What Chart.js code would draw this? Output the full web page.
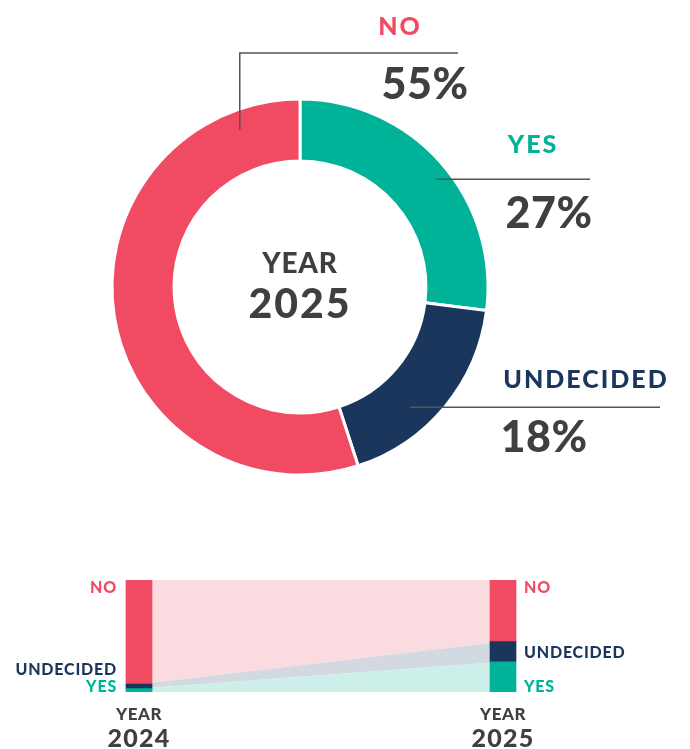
<!DOCTYPE html>
<html>
<head>
<meta charset="utf-8">
<script src="https://cdn.jsdelivr.net/npm/chart.js@4"></script>
<style>
  body { margin: 0; background: #fff; }
  #wrap { position: relative; width: 690px; height: 749px; }
  #donut { position: absolute; left: 0; top: 0; }
  #flow { position: absolute; left: 0; top: 520px; }
</style>
</head>
<body>
<div id="wrap">
  <canvas id="donut" width="690" height="520"></canvas>
  <canvas id="flow" width="690" height="229"></canvas>
</div>
<script>
// ---------------- data
var categories = ['YES', 'UNDECIDED', 'NO'];
var share2025 = [27, 18, 55];
var share2024 = [3, 4, 93];
var years = ['2024', '2025'];

var solid = ['#00B398', '#1B365D', '#F04B63'];
var pale = ['#CCEFEA', '#D3D9E1', '#FADBDF'];
var ink = '#3F3F3F';
var FONT = 'Lato, "Open Sans", sans-serif';

function txt(ctx, s, x, y, size, color, align, spacing) {
  ctx.save();
  ctx.font = '900 ' + size + 'px ' + FONT;
  ctx.fillStyle = color;
  ctx.textAlign = align || 'center';
  ctx.textBaseline = 'alphabetic';
  ctx.letterSpacing = (spacing || 0) + 'px';
  ctx.fillText(s, x, y);
  ctx.restore();
}

// ---------------- donut
// callouts: angle (deg clockwise from top), radius fraction, line end / text spots
var callouts = {
  NO:        { angle: 339, rf: 0.894, elbowY: 53, endX: 458, lx: 400, ly: 35, vx: 425, vy: 99 },
  YES:       { angle: 51.7, rf: 0.925, endX: 590, lx: 533, ly: 153, vx: 549, vy: 228 },
  UNDECIDED: { angle: 137.5, rf: 0.867, endX: 660, lx: 586, ly: 388, vx: 544, vy: 452 }
};

var donutLabels = {
  id: 'donutLabels',
  afterDraw: function (chart) {
    var ctx = chart.ctx;
    var arc = chart.getDatasetMeta(0).data[0];
    var cx = arc.x, cy = arc.y, R = arc.outerRadius;
    txt(ctx, 'YEAR', cx, cy - 14, 28, ink, 'center', 0.8);
    txt(ctx, years[1], cx, cy + 31, 41, ink, 'center', 2);
    categories.forEach(function (c, i) {
      var o = callouts[c];
      var a = o.angle * Math.PI / 180;
      var ax = cx + R * o.rf * Math.sin(a);
      var ay = cy - R * o.rf * Math.cos(a);
      ctx.save();
      ctx.strokeStyle = '#555';
      ctx.lineWidth = 1.5;
      ctx.beginPath();
      ctx.moveTo(ax, ay);
      if (o.elbowY !== undefined) {
        ctx.lineTo(ax, o.elbowY);
        ctx.lineTo(o.endX, o.elbowY);
      } else {
        ctx.lineTo(o.endX, ay);
      }
      ctx.stroke();
      ctx.restore();
      txt(ctx, c, o.lx, o.ly, 25, solid[i], 'center', 2);
      txt(ctx, share2025[i] + '%', o.vx, o.vy, 43, ink, 'center', 0.5);
    });
  }
};

new Chart(document.getElementById('donut'), {
  type: 'doughnut',
  data: {
    labels: categories,
    datasets: [{
      data: share2025,
      backgroundColor: solid,
      borderColor: '#fff',
      borderWidth: 3
    }]
  },
  options: {
    responsive: false,
    animation: false,
    cutout: '67%',
    layout: { padding: { left: 110.5, top: 97.5, right: 200.5, bottom: 43.5 } },
    plugins: { legend: { display: false }, tooltip: { enabled: false } }
  },
  plugins: [donutLabels]
});

// ---------------- flow (bands first, bars drawn over them)
var bandSets = [], barSets = [];
categories.forEach(function (c, i) {
  var pts = [{ x: 0, y: share2024[i] }, { x: 1, y: share2025[i] }];
  barSets.push({
    type: 'bar',
    label: c,
    stack: 'bars',
    order: 0,
    data: pts,
    backgroundColor: solid[i],
    borderWidth: 0,
    barThickness: 26
  });
  bandSets.push({
    type: 'line',
    label: c + ' flow',
    stack: 'flows',
    order: 1,
    data: pts,
    borderWidth: 0,
    pointRadius: 0,
    tension: 0,
    backgroundColor: pale[i],
    fill: i === 0 ? 'origin' : '-1'
  });
});

var flowLabels = {
  id: 'flowLabels',
  afterDraw: function (chart) {
    var ctx = chart.ctx;
    var xs = chart.scales.x, ys = chart.scales.y;
    var top = ys.getPixelForValue(100), bottom = ys.getPixelForValue(0);
    var x0 = xs.getPixelForValue(0), x1 = xs.getPixelForValue(1);
    // 2024 side (right aligned, left of bar)
    txt(ctx, 'NO', x0 - 13 - 9, top + 13, 16, solid[2], 'right', 0.8);
    txt(ctx, 'YES', x0 - 13 - 9, bottom, 16, solid[0], 'right', 0.8);
    txt(ctx, 'UNDECIDED', x0 - 13 - 9, bottom - 17, 16, solid[1], 'right', 0.8);
    // 2025 side
    var undMid = ys.getPixelForValue(share2025[0] + share2025[1] / 2);
    txt(ctx, 'NO', x1 + 13 + 8, top + 13, 16, solid[2], 'left', 0.8);
    txt(ctx, 'UNDECIDED', x1 + 13 + 8, undMid + 6, 16, solid[1], 'left', 0.8);
    txt(ctx, 'YES', x1 + 13 + 8, bottom, 16, solid[0], 'left', 0.8);
    // year captions
    [x0, x1].forEach(function (x, k) {
      txt(ctx, 'YEAR', x, bottom + 28, 17, ink, 'center', 0.5);
      txt(ctx, years[k], x, bottom + 55, 25, ink, 'center', 1.2);
    });
  }
};

new Chart(document.getElementById('flow'), {
  type: 'bar',
  data: { datasets: bandSets.concat(barSets) },
  options: {
    responsive: false,
    animation: false,
    layout: { padding: { left: 102.6, top: 60, right: 150.6, bottom: 57 } },
    scales: {
      x: { type: 'linear', min: -0.1, max: 1.1, offset: false, display: false },
      y: { stacked: true, min: 0, max: 100, display: false }
    },
    plugins: { legend: { display: false }, tooltip: { enabled: false } }
  },
  plugins: [flowLabels]
});
</script>
</body>
</html>
